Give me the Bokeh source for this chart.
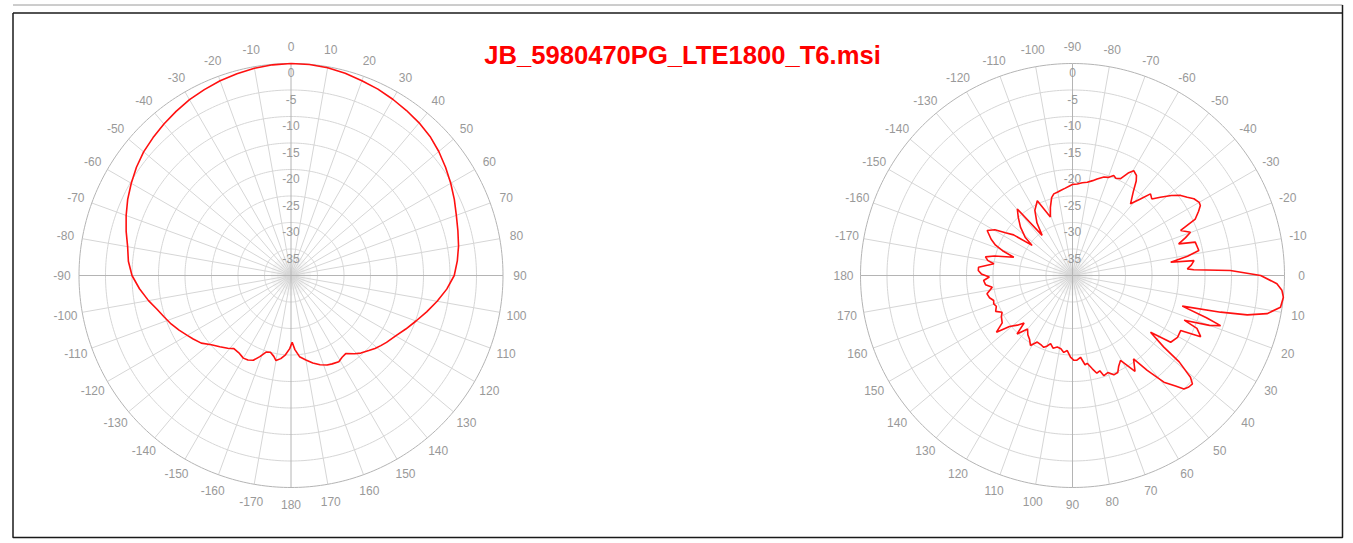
import numpy as np
from bokeh.plotting import figure
from bokeh.models import Range1d
from bokeh.embed import file_html
from bokeh.resources import INLINE
from bokeh.core.properties import value

TITLE = "JB_5980470PG_LTE1800_T6.msi"

# Horizontal pattern: azimuth (deg, clockwise from top) and gain (dB)
H_AZ = [0, 5, 10, 15, 20, 25, 30, 35, 40, 45, 50, 55, 60, 65, 70, 75, 80, 85, 90, 95,
        100, 105, 110, 115, 120, 125, 128, 131, 134, 138, 141, 145, 148, 151, 155, 158,
        162, 166, 170, 174, 177, 179, 181, 184, 187, 190, 192, 195, 198, 201, 204, 207,
        210, 214, 218, 221, 225, 229, 233, 237, 240, 244, 248, 252, 256, 260, 265, 270,
        275, 280, 285, 290, 295, 300, 305, 310, 315, 320, 325, 330, 335, 340, 345, 350,
        355, 360]
H_GAIN = [0, -0.05, -0.2, -0.5, -0.9, -1.2, -1.6, -2.0, -2.4, -2.9, -3.6, -4.4, -5.2,
          -6.0, -6.8, -7.4, -7.9, -8.5, -9.2, -10.5, -12.0, -13.5, -14.9, -16.1, -17.2,
          -18.0, -18.5, -19.0, -19.6, -20.3, -21.0, -22.0, -21.8, -21.4, -21.6, -21.8,
          -22.3, -23.0, -23.8, -24.6, -26.0, -27.4, -26.2, -25.0, -24.2, -23.7, -24.4,
          -25.0, -24.8, -23.6, -22.5, -22.1, -22.0, -22.4, -22.5, -21.8, -21.0, -20.1,
          -18.8, -18.0, -17.4, -16.5, -15.6, -14.8, -13.9, -12.7, -11.3, -10.0, -9.2,
          -8.7, -7.8, -6.9, -6.0, -5.2, -4.4, -3.7, -3.2, -2.7, -2.2, -1.7, -1.3, -0.9,
          -0.6, -0.3, -0.1, 0]

# Vertical pattern: display angle (deg, clockwise from top; elevation = angle - 90) and gain (dB)
V_ANG = [0, 3, 6, 9, 12, 14.3, 17.7, 20, 22.4, 24, 26.4, 28.5, 30.3, 32.6, 34, 36, 39,
         41.6, 43.7, 46, 48.3, 51, 53.5, 55.7, 57.7, 60, 61.3, 63, 65.3, 67.4, 69.9,
         71.5, 73.4, 74.8, 78.8, 80.5, 82.3, 83, 85, 86.7, 87.3, 88.2, 90, 92.3, 94,
         95.9, 98.7, 101.1, 102.7, 103.9, 105.6, 107.5, 108.7, 110, 111.8, 113, 115.5,
         117, 120.5, 124.2, 126, 128.1, 129, 130.8, 132.1, 133.8, 135.5, 137, 139.4,
         141.8, 143.8, 146.9, 150.5, 153, 155, 157.4, 160, 162.6, 164, 166, 168, 170.5,
         172, 174.4, 177, 179, 181.4, 184, 186.5, 189, 192, 195, 197.8, 200, 201.8, 204,
         207.9, 211, 214, 217, 220, 223.5, 225.5, 228, 231, 233.3, 236, 240, 242.4, 245,
         248, 250.2, 252.4, 255, 257.9, 260, 261.7, 264, 266.8, 269, 271, 273, 275,
         278.5, 280, 282.1, 284, 287.3, 289.5, 291.5, 294, 297.8, 300.5, 302.5, 304.6,
         306.7, 309, 312.9, 317, 320.3, 322.9, 326, 330, 334.8, 337, 339.3, 342, 345,
         347.1, 350, 352, 355, 358.7, 360]
V_GAIN = [-22.8, -22.7, -22.4, -22.2, -21.7, -21.2, -20.5, -20.3, -19.6, -19.9, -19.6,
          -18.0, -17.1, -17.6, -18.5, -20.5, -22.6, -20.7, -18.7, -19.2, -17.8, -16.0,
          -14.6, -13.8, -12.9, -12.4, -12.5, -13.3, -14.5, -17.9, -16.3, -17.5, -19.1,
          -16.0, -15.7, -18.0, -21.3, -16.9, -17.5, -18.3, -17.1, -10.2, -4.5, -1.4, -0.4,
          0, -0.3, -2.6, -6.2, -11.2, -18.5, -13.5, -10.5, -12.5, -17.3, -14.5, -13.2,
          -17.1, -17.0, -17.6, -21.8, -18.1, -14.1, -10.6, -9.5, -9.6, -10.0, -11.5, -13.5,
          -17.2, -20.5, -18.4, -21.6, -20.8, -19.8, -19.7, -20.5, -20.2, -21.3, -21.0,
          -22.0, -23.2, -23.0, -24.5, -24.0, -24.0, -24.6, -25.8, -25.4, -26.0, -26.2,
          -25.8, -26.5, -25.8, -25.4, -25.6, -25.8, -24.6, -25.5, -26.0, -26.8, -24.8,
          -27.2, -26.0, -24.7, -22.1, -24.0, -24.5, -25.0, -24.0, -24.5, -24.2, -24.4,
          -23.8, -23.5, -24.2, -24.7, -23.5, -23.2, -24.3, -22.8, -22.2, -22.2, -25.0,
          -23.8, -23.2, -24.8, -28.4, -26.0, -24.4, -23.2, -21.8, -23.0, -25.0, -26.5,
          -30.5, -28.5, -26.6, -25.0, -23.7, -30.5, -28.0, -25.8, -24.4, -26.5, -28.2,
          -26.5, -24.8, -24.2, -24.0, -23.8, -23.5, -23.0, -22.8]

RING_DB = [0, -5, -10, -15, -20, -25, -30, -35]
DB_MIN = -40
ANGLE_STEP = 10

# layout (pixels)
W, H = 1350, 541
CY = 275.0
R = 212.0
LEFT_CX = 290.5
RIGHT_CX = 1072.0

p = figure(width=W, height=H, x_range=Range1d(0, W), y_range=Range1d(H, 0),
           output_backend="svg", toolbar_location=None, min_border=0)
p.axis.visible = False
p.grid.visible = False
p.outline_line_color = None
p.background_fill_color = "white"
p.border_fill_color = "white"


def rad(db):
    return (np.asarray(db, dtype=float) - DB_MIN) / (0 - DB_MIN) * R


def xy(cx, theta_deg, r):
    t = np.radians(np.asarray(theta_deg, dtype=float))
    return cx + r * np.sin(t), CY - r * np.cos(t)


def draw_grid(cx, label_fn):
    th = np.linspace(0, 360, 361)
    # soft grey hub where the spokes converge
    for rr, al in [(20, 0.10), (14, 0.12), (8, 0.15)]:
        x, y = xy(cx, th, rr)
        p.patch(list(x), list(y), fill_color="#bdbdbd", fill_alpha=al, line_color=None)
    xs, ys = [], []
    for db in RING_DB[1:]:
        x, y = xy(cx, th, rad(db))
        xs.append(list(x)); ys.append(list(y))
    p.multi_line(xs, ys, line_color="#d6d6d6", line_width=1)
    xs, ys, xs2, ys2 = [], [], [], []
    for a in range(0, 360, ANGLE_STEP):
        x, y = xy(cx, [a, a], np.array([0, R]))
        if a % 90 == 0:
            xs2.append(list(x)); ys2.append(list(y))
        else:
            xs.append(list(x)); ys.append(list(y))
    p.multi_line(xs, ys, line_color="#d6d6d6", line_width=1)
    p.multi_line(xs2, ys2, line_color="#b4b4b4", line_width=1)
    x, y = xy(cx, th, rad(0))
    p.line(x, y, line_color="#b4b4b4", line_width=1)
    angs = list(range(0, 360, ANGLE_STEP))
    lx, ly = xy(cx, angs, R + 17)
    p.text(lx, ly, text=[label_fn(a) for a in angs], text_align="center",
           text_baseline="middle", text_font=value("Liberation Sans"),
           text_font_size="12px", text_color="#999999")
    rx = [cx] * len(RING_DB)
    ry = list(CY - rad(RING_DB) + 9)
    p.text(rx, ry, text=[str(d) for d in RING_DB], text_align="center",
           text_baseline="middle", text_font=value("Liberation Sans"),
           text_font_size="12px", text_color="#999999")


def h_label(a):
    return str(a if a <= 180 else a - 360)


def v_label(a):
    e = a - 90
    if e > 180:
        e -= 360
    return str(e)


draw_grid(LEFT_CX, h_label)
draw_grid(RIGHT_CX, v_label)

x, y = xy(LEFT_CX, H_AZ, rad(H_GAIN))
p.line(x, y, line_color="#ff1010", line_width=1.6)
x, y = xy(RIGHT_CX, V_ANG, rad(V_GAIN))
p.line(x, y, line_color="#ff1010", line_width=1.6)

p.text([682], [54], text=[TITLE], text_align="center", text_baseline="middle",
       text_font=value("Liberation Sans"), text_font_style="bold",
       text_font_size="25.6px", text_color="#ff0000")

# frame
p.line([12.5, 1342], [4.5, 4.5], line_color="#9a9a9a", line_width=1)
p.line([12.5, 1342], [12.5, 12.5], line_color="#1a1a1a", line_width=1.5)
p.line([12.5, 12.5, 1342, 1342], [12.5, 537, 537, 4.5], line_color="#1a1a1a", line_width=1.5)

open("out.html", "w").write(file_html(p, INLINE))
